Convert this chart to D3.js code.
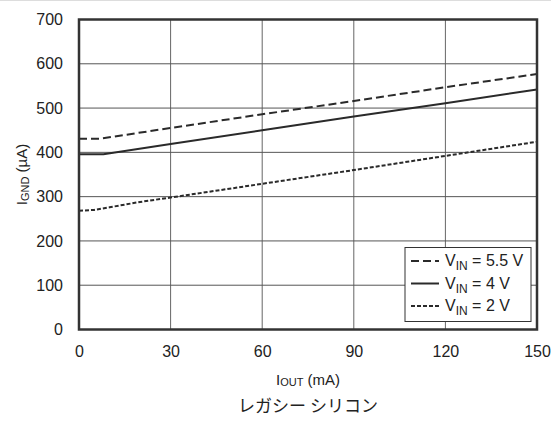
<!DOCTYPE html>
<html>
<head>
<meta charset="utf-8">
<script src="https://cdn.jsdelivr.net/npm/d3@7"></script>
<style>
  body { margin: 0; background: #fff; }
  svg text { font-family: "Liberation Sans", Arial, sans-serif; fill: #222; }
</style>
</head>
<body>
<svg id="chart" width="551" height="424"></svg>
<script>
// values
var iout_55 = [0, 7, 30, 60, 90, 120, 150]
var ignd_55 = [431, 431, 455, 486, 516, 547, 577]
var iout_4 = [0, 8, 30, 60, 90, 120, 150]
var ignd_4 = [396, 396, 419, 450, 481, 511, 542]
var iout_2 = [0, 5, 10, 20, 30, 60, 90, 120, 150]
var ignd_2 = [268, 270, 276, 288, 298, 329, 360, 392, 424]
var xTicks = [0, 30, 60, 90, 120, 150]
var yTicks = [0, 100, 200, 300, 400, 500, 600, 700]

var series = [
    {label: "5.5 V", x: iout_55, y: ignd_55, dash: "8,4"},
    {label: "4 V", x: iout_4, y: ignd_4, dash: null},
    {label: "2 V", x: iout_2, y: ignd_2, dash: "4,2"}
]

var margin = {left:79, right:14, top:19.5, bottom:94.5}
var graph = {width:551-margin.left-margin.right, height:424-margin.top-margin.bottom}

var svg = d3.select("#chart")

svg.append("line")
    .attr("x1", 0).attr("x2", 551).attr("y1", 0.5).attr("y2", 0.5)
    .attr("stroke", "#ddd")

var target = svg.append("g")
    .attr("transform", "translate("+margin.left+","+margin.top+")")

var xScale = d3.scaleLinear().domain([0, 150]).range([0, graph.width])
var yScale = d3.scaleLinear().domain([0, 700]).range([graph.height, 0])

// grid
target.selectAll(".vgrid")
    .data(xTicks.slice(1, -1))
    .enter().append("line")
    .attr("x1", d => xScale(d)).attr("x2", d => xScale(d))
    .attr("y1", 0).attr("y2", graph.height)
    .attr("stroke", "#666").attr("stroke-width", 1)

target.selectAll(".hgrid")
    .data(yTicks.slice(1, -1))
    .enter().append("line")
    .attr("y1", d => yScale(d)).attr("y2", d => yScale(d))
    .attr("x1", 0).attr("x2", graph.width)
    .attr("stroke", "#555").attr("stroke-width", 1)

// curves
var line = d3.line()
    .x(d => xScale(d[0]))
    .y(d => yScale(d[1]))

series.forEach(function(s) {
    target.append("path")
        .datum(s.x.map((v, i) => [v, s.y[i]]))
        .attr("d", line)
        .attr("fill", "none")
        .attr("stroke", "#2a2a2a")
        .attr("stroke-width", 2)
        .attr("stroke-dasharray", s.dash)
})

// frame
target.append("rect")
    .attr("width", graph.width).attr("height", graph.height)
    .attr("fill", "none").attr("stroke", "#333").attr("stroke-width", 2.5)

// axes
var xAxis = d3.axisBottom(xScale).tickValues(xTicks).tickSize(0).tickPadding(16)
target.append("g")
    .attr("transform", "translate(0,"+graph.height+")")
    .call(xAxis)
    .call(g => g.select(".domain").remove())
    .selectAll("text").style("font-size", "16px").attr("fill", "#222")

var yAxis = d3.axisLeft(yScale).tickValues(yTicks).tickSize(0).tickPadding(16)
target.append("g")
    .call(yAxis)
    .call(g => g.select(".domain").remove())
    .selectAll("text").style("font-size", "16px").attr("fill", "#222")

// legend
var legend = target.append("g")
    .attr("transform", "translate("+(405-margin.left)+","+(247.5-margin.top)+")")
legend.append("rect")
    .attr("width", 126).attr("height", 74)
    .attr("fill", "#fff").attr("stroke", "#333").attr("stroke-width", 1)

series.forEach(function(s, i) {
    var yy = 13.5 + i*22.5
    legend.append("line")
        .attr("x1", 6).attr("x2", 34).attr("y1", yy).attr("y2", yy)
        .attr("stroke", "#2a2a2a").attr("stroke-width", 2)
        .attr("stroke-dasharray", s.dash)
    var t = legend.append("text")
        .attr("x", 40).attr("y", yy + 5)
        .style("font-size", "16px")
    t.append("tspan").text("V")
    t.append("tspan").text("IN").attr("dy", 4).style("font-size", "12px")
    t.append("tspan").text(" = " + s.label).attr("dy", -4)
})

// labels
var xt = svg.append("text")
    .attr("x", margin.left + graph.width/2).attr("y", 385)
    .attr("text-anchor", "middle").style("font-size", "15px")
xt.append("tspan").text("I")
xt.append("tspan").text("OUT").style("font-size", "11px").attr("dy", 1)
xt.append("tspan").text(" (mA)").attr("dy", -1)

var yt = svg.append("text")
    .attr("transform", "translate(27,"+(margin.top + graph.height/2)+") rotate(-90)")
    .attr("text-anchor", "middle").style("font-size", "15px")
yt.append("tspan").text("I")
yt.append("tspan").text("GND").style("font-size", "11px").attr("dy", 2)
yt.append("tspan").text(" (µA)").attr("dy", -2)

svg.append("text")
    .attr("x", margin.left + graph.width/2).attr("y", 412)
    .attr("text-anchor", "middle")
    .style("font-size", "17px")
    .style("font-family", "'Noto Sans CJK JP', sans-serif")
    .text("レガシー シリコン")
</script>
</body>
</html>
